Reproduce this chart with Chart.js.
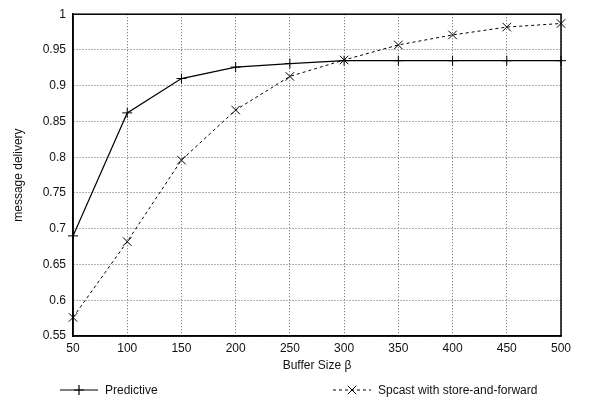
<!DOCTYPE html>
<html lang="en">
<head>
    <meta charset="UTF-8">
    <title>Message delivery vs buffer size</title>
    <script src="https://cdn.jsdelivr.net/npm/chart.js@4.4.1/dist/chart.umd.min.js"></script>
    <style>
        html, body { margin: 0; padding: 0; background: #fff; }
        #wrap { width: 592px; height: 401px; }
    </style>
</head>
<body>
    <div id="wrap"><canvas id="chart" width="592" height="401"></canvas></div>
    <script>
        // values
        const bufferSizes = [50, 100, 150, 200, 250, 300, 350, 400, 450, 500];
        const predictive = [0.690, 0.862, 0.910, 0.926, 0.931, 0.935, 0.935, 0.935, 0.935, 0.935];
        const spcast = [0.576, 0.682, 0.796, 0.866, 0.913, 0.936, 0.957, 0.971, 0.982, 0.987];
        const yTicks = [0.55, 0.6, 0.65, 0.7, 0.75, 0.8, 0.85, 0.9, 0.95, 1];
        const seriesNames = ['Predictive', 'Spcast with store-and-forward'];

        const FONT = "'Liberation Sans', Arial, Helvetica, sans-serif";
        Chart.defaults.font.family = FONT;
        Chart.defaults.font.size = 12;
        Chart.defaults.color = '#111';

        const toPoints = ys => bufferSizes.map((x, i) => ({ x: x, y: ys[i] }));

        // frame round the plot + legend under the x axis title
        const framePlugin = {
            id: 'frame',
            afterDraw(chart) {
                const { ctx, chartArea: a } = chart;
                ctx.save();
                ctx.strokeStyle = '#000';
                ctx.lineWidth = 1.5;
                ctx.strokeRect(a.left, a.top, a.right - a.left, a.bottom - a.top);

                // legend
                const items = [
                    { x: 60, ds: chart.data.datasets[0] },
                    { x: 333, ds: chart.data.datasets[1] }
                ];
                const ly = 390;
                items.forEach(it => {
                    ctx.save();
                    ctx.strokeStyle = '#000';
                    ctx.lineWidth = it.ds.borderWidth;
                    ctx.setLineDash(it.ds.borderDash || []);
                    ctx.beginPath();
                    ctx.moveTo(it.x, ly);
                    ctx.lineTo(it.x + 38, ly);
                    ctx.stroke();
                    ctx.setLineDash([]);
                    Chart.helpers.drawPoint(ctx, {
                        pointStyle: it.ds.pointStyle,
                        radius: it.ds.pointRadius,
                        rotation: 0,
                        borderWidth: 1
                    }, it.x + 19, ly);
                    ctx.restore();
                    ctx.fillStyle = '#111';
                    ctx.font = '12px ' + FONT;
                    ctx.textBaseline = 'middle';
                    ctx.fillText(it.ds.label, it.x + 45, ly + 1);
                });
                ctx.restore();
            }
        };

        const ctx = document.getElementById('chart').getContext('2d');
        const myChart = new Chart(ctx, {
            type: 'line',
            data: {
                datasets: [{
                    label: seriesNames[0],
                    data: toPoints(predictive),
                    borderColor: '#000',
                    backgroundColor: '#000',
                    borderWidth: 1.2,
                    pointStyle: 'cross',
                    pointRadius: 5,
                    pointBorderWidth: 1,
                    tension: 0,
                    clip: false
                }, {
                    label: seriesNames[1],
                    data: toPoints(spcast),
                    borderColor: '#000',
                    backgroundColor: '#000',
                    borderWidth: 1,
                    borderDash: [3, 3],
                    pointStyle: 'crossRot',
                    pointRadius: 6,
                    pointBorderWidth: 1,
                    tension: 0,
                    clip: false
                }]
            },
            options: {
                responsive: false,
                animation: false,
                layout: { padding: { left: 0, top: 7, right: 31, bottom: 24 } },
                plugins: {
                    legend: { display: false },
                    tooltip: { enabled: false }
                },
                scales: {
                    x: {
                        type: 'linear',
                        min: 50,
                        max: 500,
                        afterFit: s => { s.height = 41; },
                        ticks: { stepSize: 50, padding: 5, maxRotation: 0 },
                        grid: { color: '#666', drawTicks: false },
                        border: { color: '#000', width: 1.5, dash: [1, 2] },
                        title: { display: true, text: 'Buffer Size β', padding: { top: 4, bottom: 4 } }
                    },
                    y: {
                        min: 0.55,
                        max: 1,
                        afterFit: s => { s.width = 73; },
                        afterBuildTicks: s => { s.ticks = yTicks.map(v => ({ value: v })); },
                        ticks: {
                            padding: 7,
                            callback: v => String(+v.toFixed(2))
                        },
                        grid: { color: '#666', drawTicks: false },
                        border: { color: '#000', width: 1.5, dash: [1, 2] },
                        title: { display: true, text: 'message delivery', padding: { top: 11, bottom: 4 } }
                    }
                }
            },
            plugins: [framePlugin]
        });
    </script>
</body>
</html>
